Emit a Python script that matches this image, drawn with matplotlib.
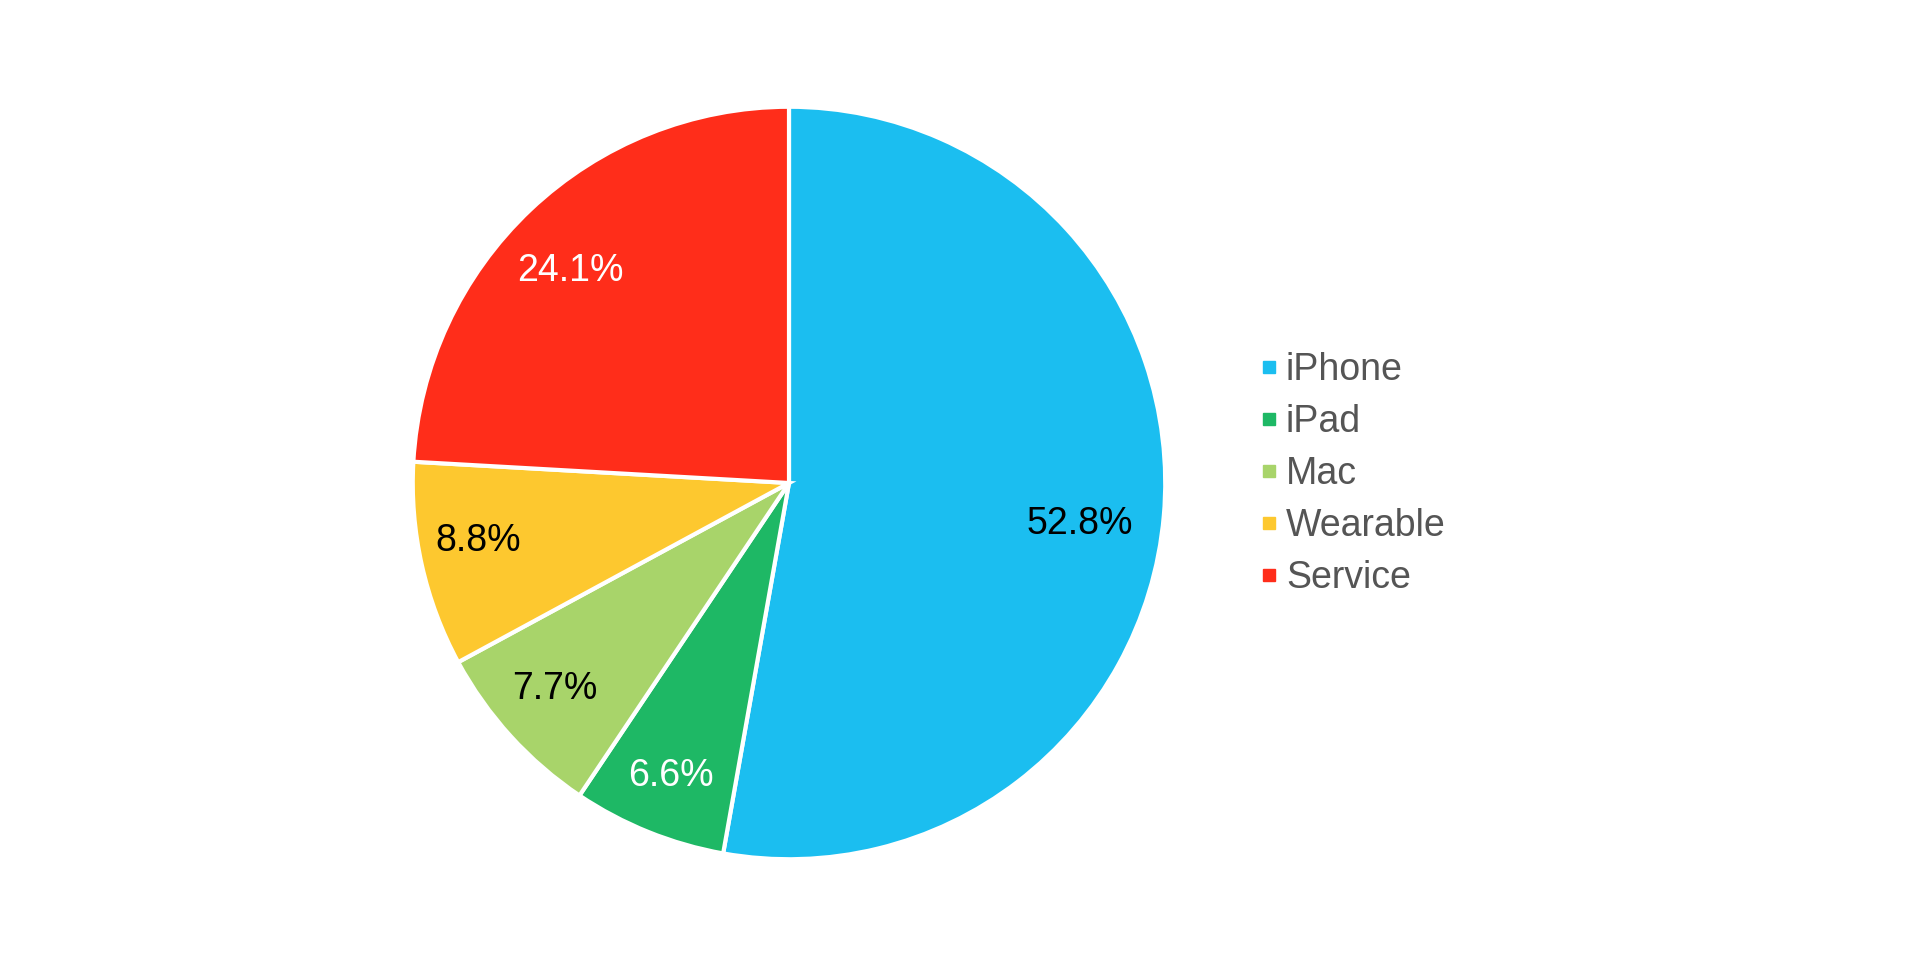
import numpy as np
import matplotlib.pyplot as plt
from matplotlib.lines import Line2D

products = ['iPhone', 'iPad', 'Mac', 'Wearable', 'Service']
shares = [52.8, 6.6, 7.7, 8.8, 24.1]
colors = ['#1BBEF0', '#1EB865', '#A8D46A', '#FDC82F', '#FF2D1A']
label_colors = ['black', 'white', 'black', 'black', 'white']
# label placement tweaks: (distance from centre, angle shift in degrees)
label_dist = [0.78, 0.84, 0.83, 0.84, 0.81]
label_turn = [-3, 0, -1, -2, 2.5]

plt.rcParams['font.family'] = ['Liberation Sans', 'DejaVu Sans']

fig = plt.figure(figsize=(19.2, 9.6), dpi=100)
fig.set_facecolor('white')

# pie centre ~ (789, 483) px, radius ~ 380 px
cx, cy, r = 789, 483, 380
ax = fig.add_axes([(cx - r) / 1920, (960 - cy - r) / 960, 2 * r / 1920, 2 * r / 960])

wedges, texts, autotexts = ax.pie(
    shares, colors=colors, startangle=90, counterclock=False,
    autopct='%.1f%%', pctdistance=0.84, radius=1,
    wedgeprops=dict(edgecolor='white', linewidth=3),
    textprops=dict(fontsize=27))
for w, t, c, d, turn in zip(wedges, autotexts, label_colors, label_dist, label_turn):
    t.set_color(c)
    ang = np.deg2rad((w.theta1 + w.theta2) / 2 + turn)
    t.set_position((d * np.cos(ang), d * np.sin(ang)))
ax.set_xlim(-1.01, 1.01)
ax.set_ylim(-1.01, 1.01)
ax.set_aspect('equal')
ax.axis('off')

handles = [Line2D([], [], marker='s', linestyle='none', markersize=8,
                  markerfacecolor=c, markeredgecolor=c) for c in colors]
fig.legend(handles, products, loc='center left', bbox_to_anchor=(1226 / 1920, 0.506),
           frameon=False, fontsize=27, labelcolor='#555555', handlelength=0.5,
           handletextpad=0.2, labelspacing=0.43)

fig.savefig('out.png', dpi=100)
